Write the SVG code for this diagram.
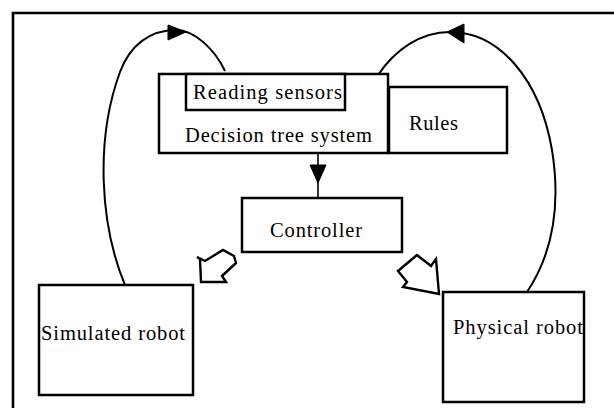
<svg xmlns="http://www.w3.org/2000/svg" width="614" height="408" viewBox="0 0 614 408">
<style>
.box{fill:#fff;stroke:#000;stroke-width:2.5}
.lbl{font-family:"Liberation Serif","Times New Roman",serif;font-size:20.5px;fill:#000}
.con{fill:none;stroke:#000;stroke-width:2}
.head{fill:#000;stroke:#000;stroke-width:1}
.blk{fill:#fff;stroke:#000;stroke-width:2.4;stroke-linejoin:miter}
</style>
<rect width="614" height="408" fill="#fff"/>
<g id="frame">
<path d="M13,408 V13 H614" fill="none" stroke="#000" stroke-width="2.6"/>
</g>
<g id="connectors">
<path class="con" d="M125,285 C100,225 95,140 120,72 C130,45 150,30 176,30 C195,30 215,50 225,71"/>
<polygon class="head" points="168,25 186,32 168,40"/>
<path class="con" d="M378,75 C395,50 420,32 450,32 C500,32 540,80 552,150 C560,200 555,250 527,292"/>
<polygon class="head" points="464,24 447,32 464,43"/>
<line x1="318" y1="153" x2="318" y2="198" stroke="#000" stroke-width="1.6"/>
<polygon class="head" points="310,165 326,165 318,183"/>
<polygon class="blk" points="197,257 205,261 223,250 234,256 236,263 222,276 226,282 201,282 200,259"/>
<polygon class="blk" points="417,255 398,271 407,282 403,287 439,294 436,259 431,266"/>
</g>
<g id="decision">
<rect class="box" x="159" y="74" width="229" height="79"/>
<text class="lbl" x="185" y="142" textLength="187" lengthAdjust="spacing">Decision tree system</text>
</g>
<g id="reading">
<rect class="box" x="186" y="74" width="159" height="36" stroke-width="3"/>
<text class="lbl" x="193" y="99" textLength="149" lengthAdjust="spacing">Reading sensors</text>
</g>
<g id="rules">
<rect class="box" x="389" y="87" width="118" height="66"/>
<text class="lbl" x="409" y="130" textLength="49" lengthAdjust="spacing">Rules</text>
</g>
<g id="controller">
<rect class="box" x="242" y="198" width="160" height="54"/>
<text class="lbl" x="270" y="237" textLength="92" lengthAdjust="spacing">Controller</text>
</g>
<g id="simulated">
<rect class="box" x="39" y="285" width="154" height="110"/>
<text class="lbl" x="41" y="340" textLength="144" lengthAdjust="spacing">Simulated robot</text>
</g>
<g id="physical">
<rect class="box" x="443" y="292" width="141" height="110"/>
<text class="lbl" x="453" y="334" textLength="130" lengthAdjust="spacing">Physical robot</text>
</g>
</svg>
